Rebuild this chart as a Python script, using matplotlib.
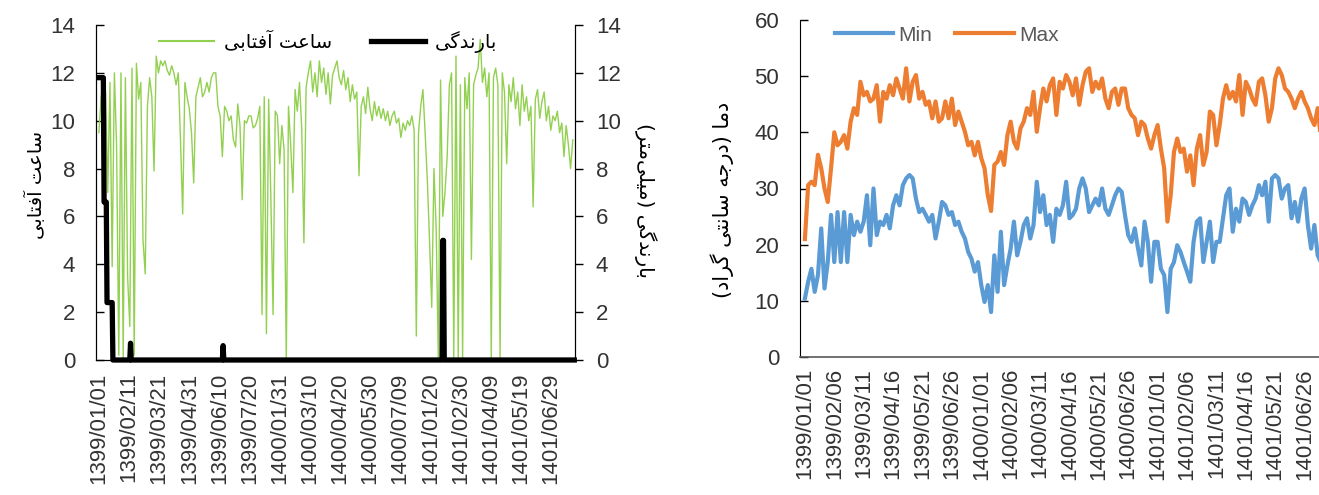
import numpy as np
import matplotlib
matplotlib.use("Agg")
import matplotlib.pyplot as plt
from matplotlib.lines import Line2D

# ---------------------------------------------------------------- data
# sunshine hours, one value every 3rd day (day index 0..645)
sunshine = [
    9.5, 11.0, 11.6, 11.2, 7.0, 11.6, 3.9, 12.0, 9.0, 0.2, 12.0, 0.1, 11.8, 3.5, 1.4, 12.2,
    0.2, 12.4, 10.9, 11.6, 5.0, 3.6, 10.6, 11.8, 11.0, 7.9, 12.7, 12.0, 12.5, 12.3, 12.5, 12.1,
    11.9, 12.3, 12.0, 11.5, 12.0, 9.2, 6.1, 11.6, 11.0, 10.5, 9.5, 7.4, 11.0, 11.4, 11.8, 11.0,
    11.2, 11.6, 11.2, 11.8, 12.0, 12.0, 10.6, 10.2, 8.5, 10.6, 10.4, 10.0, 10.2, 9.2, 8.9, 10.7,
    9.8, 6.7, 10.0, 9.9, 10.2, 10.2, 9.7, 9.8,
    10.1, 10.6, 1.9, 11.0, 1.1, 10.9, 6.8, 1.9, 10.4, 10.2, 8.2, 9.8, 8.8, 0.0, 10.6, 9.0,
    7.0, 11.3, 10.4, 11.6, 9.7, 4.9, 11.4, 12.0, 12.5, 11.2, 12.0, 11.0, 12.5, 11.6, 12.2, 11.1,
    12.0, 10.7, 11.9, 12.2, 12.5, 11.8, 11.5, 12.1, 11.3, 11.8, 10.8, 11.5, 10.9, 11.2, 7.7, 10.6,
    11.0, 10.3, 11.4, 10.5, 10.0, 10.8, 10.2, 10.6, 10.1, 10.5, 10.0, 10.4, 9.8, 10.2, 10.4, 9.9,
    10.1, 9.3, 9.9, 9.6, 10.0, 9.8, 10.2, 9.6,
    1.0, 9.5, 10.6, 11.3, 9.5, 7.5, 5.0, 2.2, 8.0, 5.5, 0.0, 11.7, 6.0, 7.0, 8.5, 11.5,
    12.0, 0.1, 12.7, 0.1, 11.5, 0.1, 11.8, 10.5, 12.0, 4.2, 11.5, 11.9, 12.2, 13.4, 11.6, 12.2,
    11.0, 12.0, 0.1, 11.8, 12.2, 11.5, 0.1, 12.0, 11.2, 8.2, 11.5, 10.8, 11.8, 10.5, 11.2, 9.8,
    11.5, 10.4, 11.0, 10.0, 10.6, 6.4, 10.9, 11.3, 10.1, 10.8, 11.2, 10.0, 10.6, 9.6, 10.2, 10.0,
    10.4, 9.5, 9.9, 8.5, 9.8, 9.0, 8.0, 9.2,
]

# precipitation (mm): only the days with rain, every other day is 0
rain_days = [0, 1, 2, 3, 4, 5, 6, 7, 8, 9, 10, 11, 12, 13, 14, 15, 16, 17, 18, 43, 169, 468, 469]
rain_mm = [11.8, 11.8, 11.8, 11.8, 11.8, 11.8, 11.8, 6.6, 6.6, 6.6, 6.6,
           2.4, 2.4, 2.4, 2.4, 2.4, 2.4, 2.4, 2.4, 0.7, 0.6, 5.0, 5.0]
n_days = 648

# temperatures, one value every 4th day (day index 0..644)
t_max = [
    21, 30.6, 31.2, 30.6, 36, 33.6, 30, 27.6, 33.6, 40, 37.7, 38.3, 39.5, 37.1, 41.9, 44.3,
    43.1, 49, 46.6, 47.2, 45.5, 46, 48.4, 41.9, 47.2, 46, 48.4, 46.6, 49.6, 47.8, 46, 51.4,
    45.5, 49, 50.2, 46, 47.2, 44.9, 45.5, 42.5, 45.5, 41.9, 42.5, 45.5, 42.5, 46, 41.3, 43.7,
    41.9, 40.1, 37.7, 38.3, 35.9,
    38.3, 35.4, 33.6, 28.8, 26, 34.2, 34.8, 36.5, 34.2, 39.5, 41.9, 38.3, 37.1, 40.7, 41.9, 44.3,
    43.1, 47.2, 40.1, 44.3, 47.8, 45.5, 48.4, 49.6, 43.1, 49, 47.8, 50.2, 49, 46.6, 49.6, 44.9,
    48.4, 50.8, 51.4, 47.2, 49, 47.8, 49.6, 46, 44.3, 47.2, 47.8, 44.9, 47.8, 47.8, 44.3, 43.1,
    42.5, 39.5, 41.9, 41.3, 38.9, 37.1,
    39.5, 41.3, 37.1, 33.6, 24.1, 28.8, 36.5, 38.9, 36.5, 37.1, 33, 35.9, 30.6, 37.1, 39.5, 34.2,
    36.5, 43.7, 43.1, 37.7, 41.3, 46, 48.4, 46, 47.2, 45.5, 50.2, 43.1, 49, 47.8, 46, 44.9,
    49, 49.6, 46.6, 41.9, 44.3, 49.6, 51.4, 50.2, 47.8, 47.2, 46, 44.3, 46, 47.2, 45.5, 44.3,
    42.5, 41.3, 44.3, 38.9, 38, 39, 38,
]
t_min = [
    10.4, 13.4, 15.7, 11.6, 14.6, 22.9, 12.2, 16.9, 25.3, 16.9, 25.8, 16.9, 25.8, 16.9, 25.3, 21.7,
    24.1, 22.3, 24.1, 28.8, 19.9, 30, 21.7, 24.1, 23.5, 25.3, 22.9, 27, 28.8, 27, 30.6, 31.8,
    32.4, 31.8, 28.2, 25.8, 26.4, 25.3, 24.1, 25.3, 21.1, 24.1, 27.6, 27, 25.3, 25.8, 23.5, 24.1,
    22.3, 21.1, 18.7, 17.5, 15.2,
    16.9, 12.8, 9.8, 12.8, 8, 18.1, 11.6, 22.3, 12.8, 16.3, 19.3, 24.1, 18.1, 20.5, 23.5, 24.7,
    21.1, 23.5, 31.2, 25.8, 28.8, 23.5, 25.3, 20.5, 26.4, 25.3, 27, 31.2, 24.7, 25.3, 26.4, 30,
    31.8, 30, 25.8, 27, 28.2, 27, 30, 26.4, 25.3, 27, 28.8, 30, 29.4, 25.3, 21.7, 20.5,
    22.9, 19.3, 16.3, 24.1, 20.5, 13.4,
    20.5, 20.5, 15.7, 14.6, 8, 15.7, 16.9, 19.9, 18.7, 16.9, 15.2, 13.4, 20.5, 24.1, 24.7, 16.9,
    20.5, 24.1, 16.9, 20.5, 20.5, 24.7, 28.8, 30, 22.3, 26.4, 24.1, 28.2, 27.6, 25.3, 27, 28.2,
    30.6, 28.8, 31.2, 24.1, 31.8, 32.4, 31.8, 28.2, 30, 30.6, 24.7, 27.6, 24.1, 28.2, 30, 23.5,
    19.3, 23.5, 18.1, 16.9, 20, 18, 17,
]

left_dates = ['1399/01/01', '1399/02/11', '1399/03/21', '1399/04/31', '1399/06/10', '1399/07/20',
              '1400/01/31', '1400/03/10', '1400/04/20', '1400/05/30', '1400/07/09', '1401/01/20',
              '1401/02/30', '1401/04/09', '1401/05/19', '1401/06/29']
right_dates = ['1399/01/01', '1399/02/06', '1399/03/11', '1399/04/16', '1399/05/21', '1399/06/26',
               '1400/01/01', '1400/02/06', '1400/03/11', '1400/04/16', '1400/05/21', '1400/06/26',
               '1401/01/01', '1401/02/06', '1401/03/11', '1401/04/16', '1401/05/21', '1401/06/26']

# Persian labels, pre-shaped (presentation forms, visual order) since matplotlib has no bidi
sun_label = "\ufbfd\ufe91\ufe8e\ufe98\ufed3\ufe81 \ufe96\ufecb\ufe8e\ufeb3"           # ساعت آفتابی
rain_label = "\ufbfd\ufb94\ufeaa\ufee7\ufead\ufe8e\ufe91"                              # بارندگی
rain_axis = "(\ufeae\ufe98\ufee3\ufbfd\ufee0\ufbff\ufee3) " + rain_label               # بارندگی (میلی‌متر)
temp_axis = ("(\ufea9\ufe8d\ufeae\ufb94 \ufbfd\ufe98\ufee7\ufe8e\ufeb3 \ufeea\ufe9f\ufead\ufea9) "
             "\ufe8e\ufee3\ufea9")                                                       # دما (درجه سانتی گراد)

GREEN = '#92D050'
BLUE = '#5B9BD5'
ORANGE = '#ED7D31'
TXT = '#333333'
LAT = ['Liberation Sans', 'DejaVu Sans']
FA = ['DejaVu Sans']

plt.rcParams['font.family'] = LAT

W, H = 1319, 495
fig = plt.figure(figsize=(W / 100, H / 100), dpi=100)

# ---------------------------------------------------------------- left panel
ax1 = fig.add_axes([96 / W, 1 - 360 / H, 479 / W, 335 / H])
ax2 = ax1.twinx()

sun_x = np.arange(len(sunshine)) * 3
ax1.plot(sun_x, sunshine, color=GREEN, lw=1.0)

rain = np.zeros(n_days)
rain[rain_days] = rain_mm
ax2.plot(np.arange(n_days), rain, color='black', lw=3.8, clip_on=False)

for a in (ax1, ax2):
    a.set_ylim(0, 14)
    a.set_yticks(np.arange(0, 15, 2))
    a.set_xlim(-4, 648)
    a.spines['top'].set_visible(False)
    for s in a.spines.values():
        s.set_color('black')
ax1.tick_params(axis='y', direction='in', length=6, width=1, pad=15, labelsize=16, labelcolor=TXT)
ax2.tick_params(axis='y', direction='out', length=6, width=1, pad=9, labelsize=16, labelcolor=TXT)
ax1.set_xticks(np.arange(len(left_dates)) * 41)
ax1.set_xticklabels(left_dates, rotation=90)
ax1.tick_params(axis='x', length=0, pad=9, labelsize=16, labelcolor=TXT)

handles = [Line2D([], [], color=GREEN, lw=1.5), Line2D([], [], color='black', lw=3.8)]
ax1.legend(handles, [sun_label, rain_label], loc='center', bbox_to_anchor=(0.485, 0.95),
           ncol=2, frameon=False, handlelength=2.8, handletextpad=0.5, columnspacing=2.0,
           prop={'family': FA, 'size': 14})

fig.text(35 / W, 1 - 185 / H, sun_label, rotation=90, ha='center', va='center',
         family=FA, fontsize=14, color='black')
fig.text(645 / W, 1 - 200 / H, rain_axis, rotation=270, ha='center', va='center',
         family=FA, fontsize=14.5, color='black')

# ---------------------------------------------------------------- right panel
ax3 = fig.add_axes([800 / W, 1 - 357 / H, 534 / W, 337 / H])
tx = np.arange(len(t_max)) * 4
ax3.plot(tx, t_min, color=BLUE, lw=3.0, label='Min')
ax3.plot(tx, t_max, color=ORANGE, lw=3.0, label='Max')
ax3.set_xlim(-6, 648)
ax3.set_ylim(0, 60)
ax3.set_yticks(np.arange(0, 61, 10))
ax3.set_xticks(np.arange(len(right_dates)) * 36)
ax3.set_xticklabels(right_dates, rotation=90)
ax3.tick_params(axis='y', direction='in', length=6, width=1, pad=15, labelsize=16, labelcolor=TXT)
ax3.tick_params(axis='x', length=0, pad=8, labelsize=16, labelcolor=TXT)
ax3.spines['top'].set_visible(False)
ax3.spines['right'].set_visible(False)
ax3.spines['left'].set_color('black')
ax3.spines['bottom'].set_color('#595959')
ax3.spines['bottom'].set_linewidth(1.2)
ax3.legend(loc='center', bbox_to_anchor=(0.275, 0.955), ncol=2, frameon=False,
           handlelength=2.8, handletextpad=0.25, columnspacing=1.1,
           prop={'size': 15}, labelcolor='#595959')

fig.text(722 / W, 1 - 200 / H, temp_axis, rotation=90, ha='center', va='center',
         family=FA, fontsize=15, color='black')

fig.savefig('out.png', dpi=100)
